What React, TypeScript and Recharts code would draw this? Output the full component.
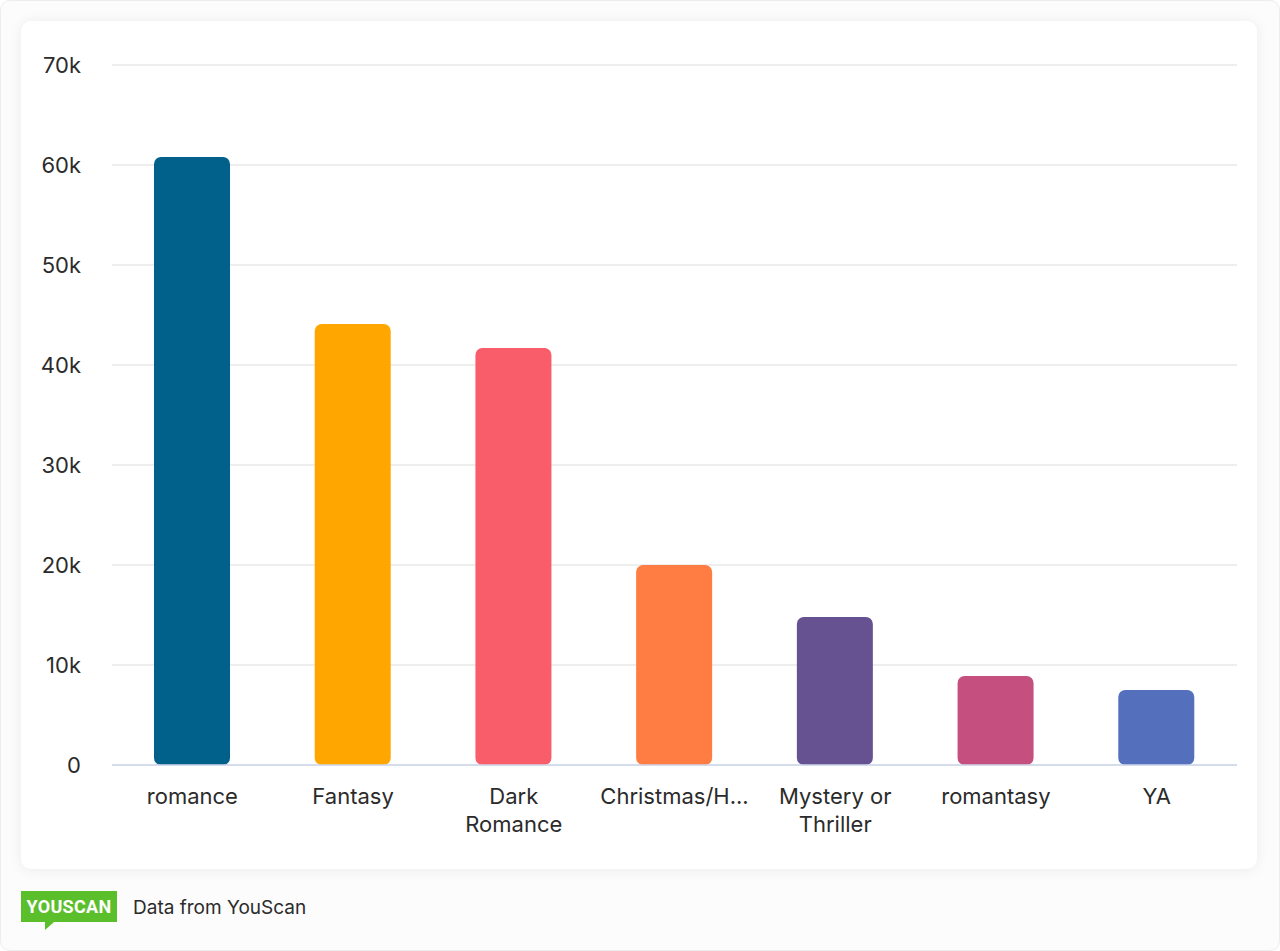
import React from 'react';
import { BarChart, Bar, XAxis, YAxis, CartesianGrid, Cell } from 'recharts';

const categories = ['romance', 'Fantasy', 'Dark Romance', 'Christmas/H...', 'Mystery or Thriller', 'romantasy', 'YA'];
const mentions = [60800, 44100, 41700, 20000, 14800, 8900, 7500];
const barColors = ['#01618b', '#ffa600', '#f95d6a', '#ff7c43', '#665191', '#c5507f', '#5470bc'];
const yTicks = [0, 10000, 20000, 30000, 40000, 50000, 60000, 70000];

const data = categories.map((name, i) => ({ name, value: mentions[i] }));

const FONT = 'Inter, "Noto Sans", sans-serif';
const TEXT = '#2b2b2b';

// naive word wrap, roughly matching the label widths in the original
const wrap = (label: string, max = 11): string[] => {
  const lines: string[] = [];
  let cur = '';
  label.split(' ').forEach(w => {
    if (!cur) cur = w;
    else if ((cur + ' ' + w).length <= max) cur += ' ' + w;
    else {
      lines.push(cur);
      cur = w;
    }
  });
  if (cur) lines.push(cur);
  return lines;
};

const XTick = (props: any) => {
  const { x, y, payload } = props;
  const lines = wrap(String(payload.value));
  return (
    <text x={x} y={y} textAnchor="middle" fill={TEXT} fontSize={22} fontFamily={FONT}>
      {lines.map((l, i) => (
        <tspan key={i} x={x} dy={i === 0 ? 39 : 28}>
          {l}
        </tspan>
      ))}
    </text>
  );
};

const formatK = (v: number) => (v === 0 ? '0' : `${v / 1000}k`);

export default function App() {
  return (
    <div
      style={{
        position: 'absolute',
        left: 0,
        top: 0,
        width: 1280,
        height: 951,
        boxSizing: 'border-box',
        background: '#fcfcfc',
        border: '1px solid #ededed',
        borderRadius: 10,
        fontFamily: FONT,
      }}
    >
      <div
        style={{
          position: 'absolute',
          left: 20,
          top: 20,
          width: 1236,
          height: 848,
          background: '#fff',
          borderRadius: 10,
          boxShadow: '0 1px 14px rgba(0,0,0,0.07)',
        }}
      >
        <BarChart width={1236} height={848} data={data} margin={{ top: 44, right: 20, left: 0, bottom: 0 }}>
          <CartesianGrid vertical={false} stroke="#e8e8e8" strokeWidth={1.5} />
          <XAxis
            dataKey="name"
            interval={0}
            height={104}
            tick={<XTick />}
            tickLine={false}
            tickSize={0}
            tickMargin={0}
            axisLine={{ stroke: '#ccd6eb', strokeWidth: 1.5 }}
          />
          <YAxis
            width={91}
            domain={[0, 70000]}
            ticks={yTicks}
            tickFormatter={formatK}
            tick={{ fontSize: 22, fill: TEXT, fontFamily: FONT }}
            tickLine={false}
            axisLine={false}
            tickSize={0}
            tickMargin={31}
          />
          <Bar dataKey="value" barSize={76} radius={[7, 7, 7, 7]} isAnimationActive={false}>
            {data.map((d, i) => (
              <Cell key={d.name} fill={barColors[i]} />
            ))}
          </Bar>
        </BarChart>
      </div>
      <div style={{ position: 'absolute', left: 20, top: 890, width: 96, height: 31, background: '#5abf2a' }}>
        <div
          style={{
            color: '#fff',
            fontFamily: 'Roboto, sans-serif',
            fontWeight: 700,
            fontSize: 18,
            lineHeight: '31px',
            textAlign: 'center',
            letterSpacing: 0.3,
          }}
        >
          YOUSCAN
        </div>
        <div
          style={{
            position: 'absolute',
            left: 24,
            top: 31,
            width: 0,
            height: 0,
            borderTop: '8px solid #5abf2a',
            borderRight: '9px solid transparent',
          }}
        />
      </div>
      <div
        style={{
          position: 'absolute',
          left: 132,
          top: 894,
          fontSize: 19,
          lineHeight: '26px',
          color: TEXT,
          fontFamily: FONT,
        }}
      >
        Data from YouScan
      </div>
    </div>
  );
}
